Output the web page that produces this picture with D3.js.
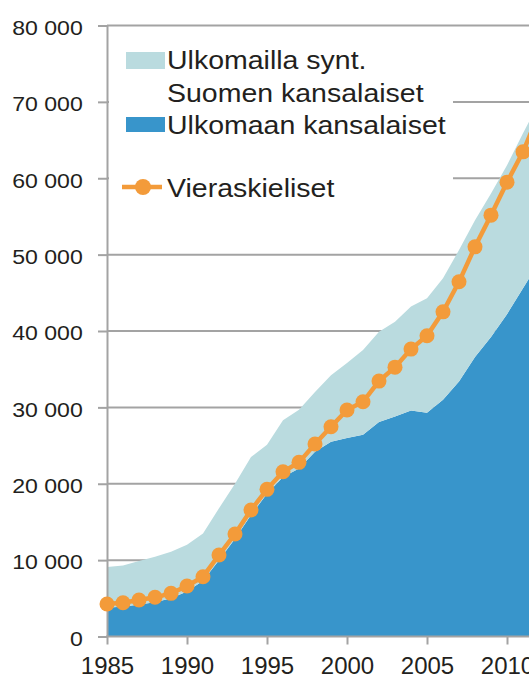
<!DOCTYPE html>
<html>
<head>
<meta charset="utf-8">
<script src="https://cdn.jsdelivr.net/npm/d3@7"></script>
<style>
body { margin: 0; background: #fff; }
svg { display: block; font-family: "Liberation Sans", Arial, sans-serif; }
</style>
</head>
<body>
<div id="chart"></div>
<script>
// Data (Helsinki population, 1985-2012)
const years = [1985, 1986, 1987, 1988, 1989, 1990, 1991, 1992, 1993, 1994, 1995, 1996, 1997, 1998,
    1999, 2000, 2001, 2002, 2003, 2004, 2005, 2006, 2007, 2008, 2009, 2010, 2011, 2012];
const ulkomaanKansalaiset = [3800, 3900, 4200, 4500, 5000, 5900, 7300, 10000, 12800, 15900, 18700, 20900, 22000, 24200,
    25500, 26000, 26400, 28100, 28800, 29600, 29300, 31000, 33400, 36600, 39200, 42200, 45600, 49000];
const ulkomaillaSyntSuomenKansalaiset = [5300, 5400, 5700, 5950, 6100, 6100, 6200, 6800, 7200, 7600, 6400, 7400, 7700, 7800,
    8700, 9800, 11100, 11800, 12400, 13600, 15000, 15900, 17200, 17900, 18800, 19500, 20300, 20900];
const vieraskieliset = [4250, 4420, 4780, 5130, 5650, 6610, 7830, 10670, 13420, 16560, 19270, 21570, 22800, 25200,
    27460, 29650, 30730, 33440, 35270, 37630, 39370, 42510, 46440, 51020, 55170, 59490, 63460, 68500];

const yTicks = [0, 10000, 20000, 30000, 40000, 50000, 60000, 70000, 80000];
const xTicks = [1985, 1990, 1995, 2000, 2005, 2010];

const width = 529;
const height = 675;

const colorUlk = "#3895cb";
const colorSynt = "#badbdf";
const colorVier = "#f39b3a";
const gridColor = "#a3a3a3";
const textColor = "#231f20";

const svg = d3.select("#chart")
    .append("svg")
    .attr("width", width)
    .attr("height", height);

const x = d3.scaleLinear().domain([1985, 2010]).range([107, 507]);
const y = d3.scaleLinear().domain([0, 80000]).range([636.5, 25.5]);

const fi = d3.formatLocale({decimal: ",", thousands: "\u00a0", grouping: [3], currency: ["", " €"]});
const fmt = fi.format(",");

// Gridlines
svg.append("g")
    .selectAll("line")
    .data(yTicks.filter(d => d > 0))
    .join("line")
    .attr("x1", 107).attr("x2", width)
    .attr("y1", d => y(d)).attr("y2", d => y(d))
    .attr("stroke", gridColor)
    .attr("stroke-width", 2);

// White box behind the legend
svg.append("rect")
    .attr("x", 109).attr("y", 32)
    .attr("width", 344).attr("height", 185)
    .attr("fill", "#fff");

// Stacked areas
const rows = years.map((yr, i) => ({
    year: yr,
    ulk: ulkomaanKansalaiset[i],
    synt: ulkomaillaSyntSuomenKansalaiset[i]
}));
const series = d3.stack().keys(["ulk", "synt"])(rows);
const area = d3.area()
    .x(d => x(d.data.year))
    .y0(d => y(d[0]))
    .y1(d => y(d[1]));

svg.append("g")
    .selectAll("path")
    .data(series)
    .join("path")
    .attr("fill", d => d.key === "ulk" ? colorUlk : colorSynt)
    .attr("d", area);

// Y axis
const yAxis = svg.append("g")
    .attr("transform", "translate(107,0)")
    .call(d3.axisLeft(y).tickValues(yTicks).tickSize(9).tickSizeOuter(0).tickFormat(fmt));
yAxis.select(".domain").attr("stroke", gridColor).attr("stroke-width", 2);
yAxis.selectAll(".tick line").attr("stroke", gridColor).attr("stroke-width", 2);
yAxis.selectAll(".tick text")
    .attr("x", -22)
    .attr("dy", "0.42em")
    .attr("transform", "scale(1.1,1)")
    .attr("fill", textColor)
    .style("font-size", "21px")
    .style("font-family", "'Liberation Sans', Arial, sans-serif");

// X axis
svg.append("line")
    .attr("x1", 106).attr("x2", width)
    .attr("y1", y(0)).attr("y2", y(0))
    .attr("stroke", gridColor)
    .attr("stroke-width", 2);
const xAxis = svg.append("g")
    .attr("transform", `translate(0,${y(0)})`)
    .call(d3.axisBottom(x).tickValues(xTicks).tickSize(8).tickSizeOuter(0).tickPadding(12).tickFormat(d3.format("d")));
xAxis.select(".domain").remove();
xAxis.selectAll(".tick line").attr("stroke", gridColor).attr("stroke-width", 2);
xAxis.selectAll(".tick text")
    .attr("fill", textColor)
    .style("font-size", "24px")
    .style("font-family", "'Liberation Sans', Arial, sans-serif");

// Vieraskieliset line + markers
const line = d3.line()
    .x((d, i) => x(years[i]))
    .y(d => y(d));

svg.append("path")
    .datum(vieraskieliset)
    .attr("fill", "none")
    .attr("stroke", colorVier)
    .attr("stroke-width", 4.5)
    .attr("d", line);

svg.append("g")
    .selectAll("circle")
    .data(vieraskieliset)
    .join("circle")
    .attr("cx", (d, i) => x(years[i]))
    .attr("cy", d => y(d))
    .attr("r", 7.5)
    .attr("fill", colorVier);

// Legend
const legend = svg.append("g");
legend.append("rect")
    .attr("x", 126).attr("y", 52).attr("width", 39).attr("height", 17)
    .attr("fill", colorSynt);
legend.append("rect")
    .attr("x", 126).attr("y", 117).attr("width", 39).attr("height", 15)
    .attr("fill", colorUlk);
legend.append("line")
    .attr("x1", 122).attr("x2", 162).attr("y1", 187).attr("y2", 187)
    .attr("stroke", colorVier).attr("stroke-width", 4.5);
legend.append("circle")
    .attr("cx", 143).attr("cy", 187).attr("r", 8)
    .attr("fill", colorVier);

const legendTexts = [
    {text: "Ulkomailla synt.", base: 68.5},
    {text: "Suomen kansalaiset", base: 101.5},
    {text: "Ulkomaan kansalaiset", base: 134.3},
    {text: "Vieraskieliset", base: 196.7}
];
legend.selectAll("text")
    .data(legendTexts)
    .join("text")
    .attr("transform", d => `translate(167,${d.base}) scale(1.14,1)`)
    .attr("fill", textColor)
    .style("font-size", "25px")
    .text(d => d.text);
</script>
</body>
</html>
